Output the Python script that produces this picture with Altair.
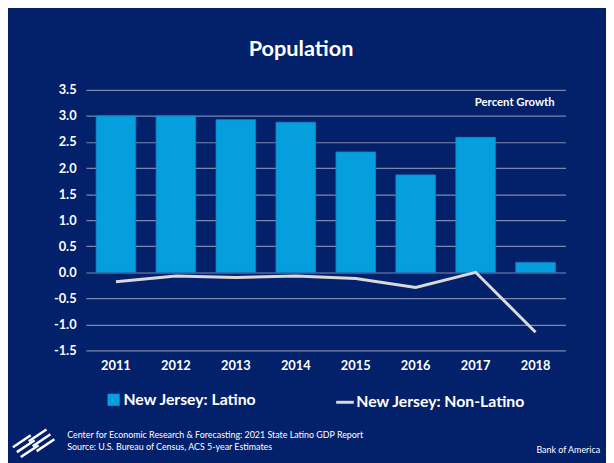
import altair as alt
import pandas as pd

years = ["2011", "2012", "2013", "2014", "2015", "2016", "2017", "2018"]
latino = [3.0, 3.0, 2.93, 2.88, 2.31, 1.87, 2.59, 0.19]
non_latino = [-0.18, -0.07, -0.10, -0.07, -0.12, -0.29, 0.0, -1.15]
y_ticks = [-1.5, -1.0, -0.5, 0.0, 0.5, 1.0, 1.5, 2.0, 2.5, 3.0, 3.5]

NAVY = "#03206A"
BAR = "#069FDD"
LINE = "#D9D9D9"
GRID = "#7D87AD"
FONT = "Lato"

bars_df = pd.DataFrame({"year": years, "value": latino, "series": "New Jersey: Latino"})
line_df = pd.DataFrame({"year": years, "value": non_latino, "series": "New Jersey: Non-Latino"})

W, H = 486, 264

x = alt.X("year:N", sort=years, title=None,
          scale=alt.Scale(paddingInner=0.34, paddingOuter=0.17),
          axis=alt.Axis(labelAngle=0, labelColor="white", labelFont=FONT, labelFontSize=13,
                        labelFontWeight="bold", labelPadding=9, ticks=False, domain=False, grid=False))
y = alt.Y("value:Q", title=None,
          scale=alt.Scale(domain=[-1.5, 3.5], nice=False, zero=False),
          axis=alt.Axis(values=y_ticks, tickCount=20, labelColor="white", labelFont=FONT, labelFontSize=13,
                        labelFontWeight="bold", labelPadding=10, ticks=False, domain=False,
                        labelOverlap=False, labelBound=False,
                        grid=True, gridColor=GRID, gridWidth=1.2,
                        labelExpr="(datum.value < 0 ? '-' : '') + format(abs(datum.value), '.1f')"))

bars = alt.Chart(bars_df).mark_bar(stroke="#1781C4", strokeWidth=0.8).encode(
    x=x, y=y, y2=alt.datum(0),
    color=alt.Color("series:N", scale=alt.Scale(domain=["New Jersey: Latino"], range=[BAR]),
                    legend=alt.Legend(orient="none", legendX=20, legendY=306, title=None,
                                      symbolType="square", symbolSize=150, symbolStrokeWidth=0,
                                      labelColor="white", labelFont=FONT, labelFontSize=16,
                                      labelFontWeight="bold", labelOffset=2, labelLimit=400))
)

line = alt.Chart(line_df).mark_line(strokeWidth=3).encode(
    x=alt.X("year:N", sort=years),
    y=alt.Y("value:Q"),
    stroke=alt.Stroke("series:N", scale=alt.Scale(domain=["New Jersey: Non-Latino"], range=[LINE]),
                      legend=alt.Legend(orient="none", legendX=252, legendY=306, title=None,
                                        symbolType="stroke", symbolSize=320, symbolStrokeWidth=3,
                                        labelColor="white", labelFont=FONT, labelFontSize=16,
                                        labelFontWeight="bold", labelOffset=1, labelLimit=400))
)

def txt(text, xv, yv, size, weight="normal", align="left"):
    return alt.Chart(pd.DataFrame({"t": [text]})).mark_text(
        color="white", font=FONT, fontSize=size, fontWeight=weight, align=align, baseline="middle"
    ).encode(x=alt.value(xv), y=alt.value(yv), text="t:N")

title = txt("Population", 218, -41, 22, "bold", "center")
pg = txt("Percent Growth", 475, 13, 11.5, "bold", "right")
foot1 = txt("Center for Economic Research & Forecasting: 2021 State Latino GDP Report", -19, 350, 9)
foot2 = txt("Source: U.S. Bureau of Census, ACS 5-year Estimates", -19, 362, 9)
boa = txt("Bank of America", 521, 365, 9, "normal", "right")

logo_df = pd.DataFrame({"x1": [-74, -70, -66, -58, -54, -50],
                        "y1": [362, 367, 372, 356, 361, 366],
                        "x2": [-56, -52, -48, -40, -36, -32],
                        "y2": [350, 355, 360, 344, 349, 354]})
logo = alt.Chart(logo_df).mark_rule(color="white", strokeWidth=2.5).encode(
    x=alt.X("x1:Q", scale=None), y=alt.Y("y1:Q", scale=None),
    x2="x2:Q", y2="y2:Q")

chart = alt.layer(bars, line, title, pg, foot1, foot2, boa, logo).resolve_scale(
    color="independent", stroke="independent"
).properties(
    width=W, height=H,
    background=NAVY,
    padding={"left": 79, "top": 80, "right": 41, "bottom": 111},
    autosize=alt.AutoSizeParams(type="none"),
).configure_view(stroke=None)

chart.save("out.html", embed_options={"renderer": "svg", "actions": False})
